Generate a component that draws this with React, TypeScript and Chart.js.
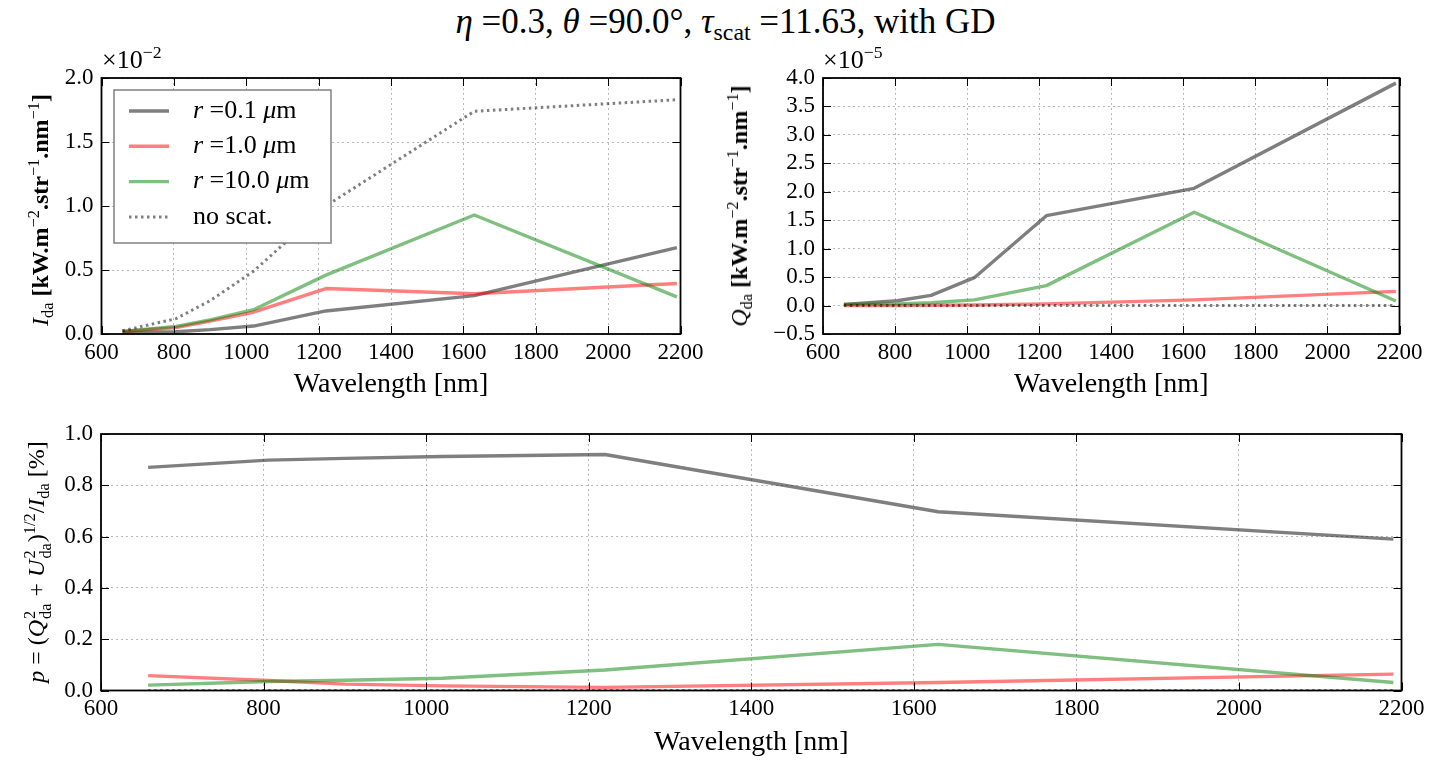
import React, { useEffect, useRef } from 'react';
import { Chart, registerables } from 'chart.js';

Chart.register(...registerables);

// ---------------- data ----------------
const wavelengths = [658, 806, 900, 1020, 1220, 1630, 2190];
const xTickValues = [600, 800, 1000, 1200, 1400, 1600, 1800, 2000, 2200];
const radii = ['0.1', '1.0', '10.0'];

// I_da, in units of 1e-2 kW.m^-2.str^-1.nm^-1
const iDaR01 = [0.013, 0.018, 0.034, 0.062, 0.18, 0.30, 0.675];
const iDaR1 = [0.02, 0.05, 0.10, 0.17, 0.355, 0.315, 0.395];
const iDaR10 = [0.02, 0.06, 0.11, 0.19, 0.46, 0.93, 0.29];
const iDaNoScat = [0.025, 0.12, 0.26, 0.49, 1.0, 1.74, 1.83];

// Q_da, in units of 1e-5 kW.m^-2.str^-1.nm^-1
const qDaR01 = [0.02, 0.085, 0.18, 0.49, 1.58, 2.06, 3.91];
const qDaR1 = [0.0, 0.0, 0.005, 0.01, 0.03, 0.1, 0.25];
const qDaR10 = [0.02, 0.03, 0.05, 0.1, 0.35, 1.64, 0.08];
const qDaNoScat = [0, 0, 0, 0, 0, 0, 0];

// p
const pR01 = [0.87, 0.898, 0.905, 0.912, 0.92, 0.697, 0.59];
const pR1 = [0.058, 0.039, 0.025, 0.018, 0.012, 0.031, 0.064];
const pR10 = [0.021, 0.035, 0.04, 0.048, 0.08, 0.18, 0.031];
const pNoScat = [0, 0, 0, 0, 0, 0, 0];

// ---------------- styles ----------------
const FONT = '"Liberation Serif", "Times New Roman", serif';
const GRAY = 'rgba(0,0,0,0.5)';
const RED = 'rgba(255,0,0,0.5)';
const GREEN = 'rgba(0,128,0,0.5)';

function makeDatasets(r01: number[], r1: number[], r10: number[], ns: number[]) {
  const pts = (arr: number[]) => wavelengths.map((x, i) => ({ x, y: arr[i] }));
  const base = { pointRadius: 0, tension: 0, fill: false, borderJoinStyle: 'round', borderCapStyle: 'butt' };
  return [
    { ...base, label: `r =${radii[0]} μm`, data: pts(r01), borderColor: GRAY, borderWidth: 3.4, order: 4 },
    { ...base, label: `r =${radii[1]} μm`, data: pts(r1), borderColor: RED, borderWidth: 3.4, order: 3 },
    { ...base, label: `r =${radii[2]} μm`, data: pts(r10), borderColor: GREEN, borderWidth: 3.4, order: 2 },
    { ...base, label: 'no scat.', data: pts(ns), borderColor: GRAY, borderWidth: 3, borderDash: [2.5, 3.5], order: 1 },
  ];
}

const framePlugin = {
  id: 'mplFrame',
  afterDatasetsDraw(chart: any) {
    const { ctx, chartArea: a, scales } = chart;
    const xs = scales.x, ys = scales.y;
    ctx.save();
    ctx.strokeStyle = '#000';
    ctx.lineWidth = 1;
    ctx.setLineDash([]);
    const L = 8;
    xs.ticks.forEach((t: any) => {
      const px = Math.round(xs.getPixelForValue(t.value)) + 0.5;
      ctx.beginPath();
      ctx.moveTo(px, a.bottom); ctx.lineTo(px, a.bottom - L);
      ctx.moveTo(px, a.top); ctx.lineTo(px, a.top + L);
      ctx.stroke();
    });
    ys.ticks.forEach((t: any) => {
      const py = Math.round(ys.getPixelForValue(t.value)) + 0.5;
      ctx.beginPath();
      ctx.moveTo(a.left, py); ctx.lineTo(a.left + L, py);
      ctx.moveTo(a.right, py); ctx.lineTo(a.right - L, py);
      ctx.stroke();
    });
    ctx.lineWidth = 1.8;
    ctx.strokeRect(a.left, a.top, a.right - a.left, a.bottom - a.top);
    ctx.restore();
  },
};

const legendPlugin = {
  id: 'mplLegend',
  afterDraw(chart: any) {
    const { ctx, chartArea: a } = chart;
    const left = a.left + 12.5, top = a.top + 12, w = 217, h = 153;
    ctx.save();
    ctx.fillStyle = '#fff';
    ctx.fillRect(left, top, w, h);
    ctx.strokeStyle = '#808080';
    ctx.lineWidth = 1.5;
    ctx.strokeRect(left, top, w, h);
    ctx.textBaseline = 'middle';
    ctx.fillStyle = '#000';
    chart.data.datasets.forEach((ds: any, i: number) => {
      const cy = top + 21 + i * 35.3;
      ctx.strokeStyle = ds.borderColor;
      ctx.lineWidth = ds.borderWidth;
      ctx.setLineDash(ds.borderDash || []);
      ctx.beginPath();
      ctx.moveTo(left + 15, cy);
      ctx.lineTo(left + 55, cy);
      ctx.stroke();
      ctx.setLineDash([]);
      const parts = i < radii.length
        ? [
            { t: 'r', it: true },
            { t: ' =' + radii[i] + ' ', it: false },
            { t: 'μ', it: true },
            { t: 'm', it: false },
          ]
        : [{ t: ds.label, it: false }];
      let cx = left + 79;
      parts.forEach((p) => {
        ctx.font = `${p.it ? 'italic ' : ''}26px ${FONT}`;
        ctx.fillText(p.t, cx, cy);
        cx += ctx.measureText(p.t).width;
      });
    });
    ctx.restore();
  },
};

function makeConfig(opts: {
  datasets: any[]; yMin: number; yMax: number; yStep: number;
  padRight: number; padTop: number; yWidth: number; xHeight: number; titleBottom: number; legend?: boolean;
}) {
  return {
    type: 'line',
    data: { datasets: opts.datasets },
    plugins: opts.legend ? [framePlugin, legendPlugin] : [framePlugin],
    options: {
      responsive: false,
      animation: false,
      events: [],
      layout: { padding: { left: 0, top: opts.padTop, right: opts.padRight, bottom: 0 } },
      plugins: { legend: { display: false }, tooltip: { enabled: false }, title: { display: false } },
      scales: {
        x: {
          type: 'linear',
          min: 600,
          max: 2200,
          afterBuildTicks: (s: any) => { s.ticks = xTickValues.map((v) => ({ value: v })); },
          afterFit: (s: any) => { s.height = opts.xHeight; },
          ticks: {
            autoSkip: false, maxRotation: 0, padding: 5, color: '#000',
            font: { family: FONT, size: 23 },
            callback: (v: any) => String(v),
          },
          grid: { color: 'rgba(0,0,0,0.27)', lineWidth: 1, drawTicks: false },
          border: { display: false, dash: [2, 3] },
          title: {
            display: true, text: 'Wavelength [nm]', color: '#000',
            font: { family: FONT, size: 28, lineHeight: 1 }, padding: { top: 0, bottom: opts.titleBottom },
          },
        },
        y: {
          type: 'linear',
          min: opts.yMin,
          max: opts.yMax,
          afterFit: (s: any) => { s.width = opts.yWidth; },
          ticks: {
            stepSize: opts.yStep, padding: 8, color: '#000', autoSkip: false,
            font: { family: FONT, size: 23 },
            callback: (v: any) => Number(v).toFixed(1).replace('-', '−'),
          },
          grid: { color: 'rgba(0,0,0,0.27)', lineWidth: 1, drawTicks: false },
          border: { display: false, dash: [2, 3] },
        },
      },
    },
  };
}

function ChartCanvas({ config, width, height, left, top }: any) {
  const ref = useRef<HTMLCanvasElement | null>(null);
  useEffect(() => {
    if (!ref.current) return;
    const chart = new Chart(ref.current, config);
    return () => chart.destroy();
  }, []);
  return (
    <canvas
      ref={ref}
      width={width}
      height={height}
      style={{ position: 'absolute', left, top, width, height, display: 'block' }}
    />
  );
}

const supS: React.CSSProperties = { fontSize: '0.68em', verticalAlign: '0.55em', lineHeight: 0 };
const subS: React.CSSProperties = { fontSize: '0.68em', verticalAlign: '-0.3em', lineHeight: 0 };

function SupSub({ sup, sub }: { sup: string; sub: string }) {
  return (
    <span style={{ display: 'inline-flex', flexDirection: 'column', fontSize: '0.68em', lineHeight: 1.0, verticalAlign: '0.55em', margin: '0 1px' }}>
      <span>{sup}</span>
      <span>{sub}</span>
    </span>
  );
}

function RotLabel({ cx, cy, size, children }: any) {
  return (
    <div
      style={{
        position: 'absolute', left: cx, top: cy, whiteSpace: 'nowrap', fontFamily: FONT,
        fontSize: size, lineHeight: 1, color: '#000',
        transform: 'translate(-50%, -50%) rotate(-90deg)',
      }}
    >
      {children}
    </div>
  );
}

function UnitText() {
  return (
    <>
      <b>[kW.m</b><span style={supS}>−2</span><b>.str</b><span style={supS}>−1</span>
      <b>.nm</b><span style={supS}>−1</span><b>]</b>
    </>
  );
}

export default function App() {
  const cfg1 = makeConfig({
    datasets: makeDatasets(iDaR01, iDaR1, iDaR10, iDaNoScat),
    yMin: 0, yMax: 2.0, yStep: 0.5, padRight: 29.5, padTop: 38, yWidth: 101.5, xHeight: 66, titleBottom: 1, legend: true,
  });
  const cfg2 = makeConfig({
    datasets: makeDatasets(qDaR01, qDaR1, qDaR10, qDaNoScat),
    yMin: -0.5, yMax: 4.0, yStep: 0.5, padRight: 51.5, padTop: 38, yWidth: 103, xHeight: 66, titleBottom: 1,
  });
  const cfg3 = makeConfig({
    datasets: makeDatasets(pR01, pR1, pR10, pNoScat),
    yMin: 0, yMax: 1.0, yStep: 0.2, padRight: 49.5, padTop: 34, yWidth: 101, xHeight: 91.5, titleBottom: 25,
  });

  return (
    <div style={{ position: 'absolute', left: 0, top: 0, width: 1451, height: 782, background: '#fff', overflow: 'hidden' }}>
      <div
        style={{
          position: 'absolute', left: 0, top: 4, width: 1451, textAlign: 'center', fontFamily: FONT,
          fontSize: 35, lineHeight: '36px', color: '#000', whiteSpace: 'nowrap',
        }}
      >
        <i>η</i> =0.3, <i>θ</i> =90.0°, <i>τ</i><span style={subS}>scat</span> =11.63, with GD
      </div>

      <ChartCanvas config={cfg1} width={710} height={360} left={0} top={40} />
      <ChartCanvas config={cfg2} width={731} height={360} left={720} top={40} />
      <ChartCanvas config={cfg3} width={1451} height={382} left={0} top={400} />

      <div style={{ position: 'absolute', left: 102, top: 47, fontFamily: FONT, fontSize: 26, lineHeight: 1, color: '#000' }}>
        ×10<span style={supS}>−2</span>
      </div>
      <div style={{ position: 'absolute', left: 823, top: 47, fontFamily: FONT, fontSize: 26, lineHeight: 1, color: '#000' }}>
        ×10<span style={supS}>−5</span>
      </div>

      <RotLabel cx={40} cy={210} size={24}>
        <i>I</i><span style={subS}>da</span> <UnitText />
      </RotLabel>
      <RotLabel cx={739} cy={206} size={24}>
        <i>Q</i><span style={subS}>da</span> <UnitText />
      </RotLabel>
      <RotLabel cx={38} cy={562} size={24}>
        <i>p</i> = (<i>Q</i><SupSub sup="2" sub="da" /> + <i>U</i><SupSub sup="2" sub="da" />)
        <span style={supS}>1/2</span>/<i>I</i><span style={subS}>da</span> [%]
      </RotLabel>
    </div>
  );
}
